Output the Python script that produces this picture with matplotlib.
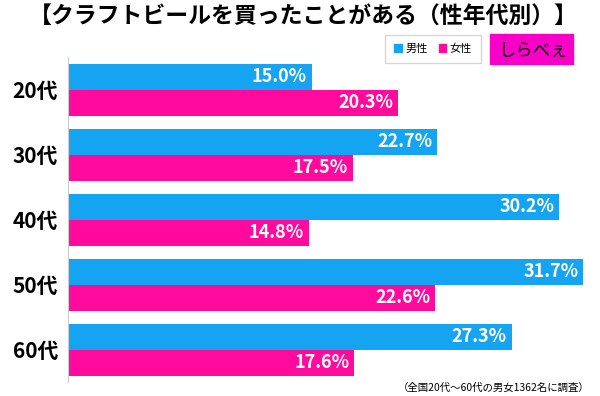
import matplotlib
matplotlib.use("Agg")
import matplotlib.pyplot as plt
from matplotlib.patches import Patch, Rectangle
import numpy as np

plt.rcParams["font.family"] = ["Noto Sans CJK JP", "DejaVu Sans"]

# data
ages = ["20代", "30代", "40代", "50代", "60代"]
male = [15.0, 22.7, 30.2, 31.7, 27.3]
female = [20.3, 17.5, 14.8, 22.6, 17.6]

title = "【クラフトビールを買ったことがある（性年代別）】"
note = "（全国20代〜60代の男女1362名に調査）"

blue = "#14A4F2"
pink = "#FF0A9C"

fig = plt.figure(figsize=(6, 3.96), dpi=100)
ax = fig.add_axes([68 / 600, 14 / 396, 530 / 600, 325 / 396])

y = np.arange(len(ages))
h = 0.4
bm = ax.barh(y - h / 2, male, height=h, color=blue)
bf = ax.barh(y + h / 2, female, height=h, color=pink)

for bars, vals in ((bm, male), (bf, female)):
    for b, v in zip(bars, vals):
        ax.text(b.get_width() - 0.3, b.get_y() + b.get_height() / 2, f"{v:.1f}%",
                ha="right", va="center", color="white", fontsize=13,
                fontweight="bold")

ax.set_xlim(0, 32.6)
ax.set_ylim(len(ages) - 0.5, -0.5)
ax.set_xticks([])
ax.set_yticks(y)
ax.set_yticklabels(ages, fontsize=15, fontweight="bold")
ax.tick_params(axis="y", length=0, pad=7)
for s in ("top", "right", "bottom"):
    ax.spines[s].set_visible(False)
ax.spines["left"].set_color("#cccccc")

fig.text(0.505, 1 - 17 / 396, title, ha="center", va="center",
         fontsize=16.5, fontweight="bold")

handles = [Patch(color=blue, label="男性"), Patch(color=pink, label="女性")]
fig.legend(handles=handles, loc="center", bbox_to_anchor=(433 / 600, 1 - 49 / 396),
           ncol=2, fontsize=8, frameon=True, fancybox=False, edgecolor="#cccccc",
           handlelength=0.7, handleheight=0.7, handletextpad=0.3,
           columnspacing=1.0, borderpad=0.8)

# logo
fig.patches.append(Rectangle((490 / 600, 1 - 64 / 396), 83 / 600, 30 / 396,
                             transform=fig.transFigure, color="#F900C9"))
fig.text(534 / 600, 1 - 51 / 396, "しらべぇ", ha="center", va="center",
         fontsize=12.5, color="black")

fig.text(590 / 600, 1 - 388 / 396, note, ha="right", va="center", fontsize=7.5)

fig.savefig("out.png", dpi=100)
